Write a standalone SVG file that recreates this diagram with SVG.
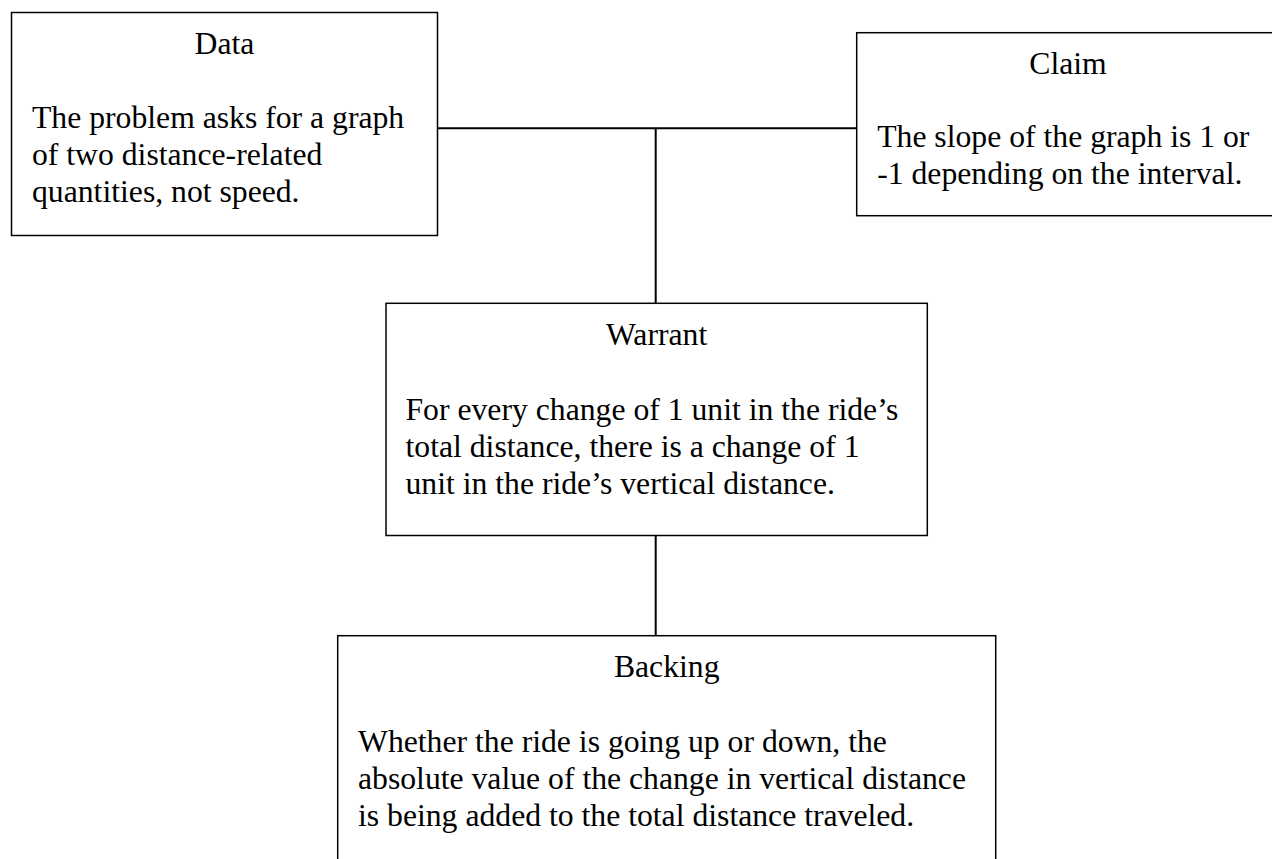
<svg xmlns="http://www.w3.org/2000/svg" width="1272" height="859" viewBox="0 0 1272 859">
<style>
.box{fill:#fff;stroke:#000;stroke-width:1.5}
.ln{stroke:#000;stroke-width:2;fill:none}
text{font-family:"Liberation Serif","Times New Roman",serif;font-size:31.7px;fill:#000}
.t{text-anchor:middle}
</style>
<rect width="1272" height="859" fill="#fff"/>
<g id="connectors">
<line class="ln" x1="437.5" y1="128.3" x2="856.7" y2="128.3"/>
<line class="ln" x1="655.7" y1="128.3" x2="655.7" y2="303.3"/>
<line class="ln" x1="655.7" y1="535.5" x2="655.7" y2="635.7"/>
</g>
<g id="data">
<rect class="box" x="11.5" y="12.5" width="426" height="223"/>
<text class="t" x="224.5" y="53.5">Data</text>
<text x="32" y="128">The problem asks for a graph</text>
<text x="32" y="165">of two distance-related</text>
<text x="32" y="202">quantities, not speed.</text>
</g>
<g id="claim">
<rect class="box" x="856.7" y="32.7" width="422" height="183"/>
<text class="t" x="1068" y="74">Claim</text>
<text x="877.2" y="147">The slope of the graph is 1 or</text>
<text x="877.2" y="184">-1 depending on the interval.</text>
</g>
<g id="warrant">
<rect class="box" x="386" y="303.3" width="541.3" height="232.2"/>
<text class="t" x="656.6" y="344.5">Warrant</text>
<text x="405.5" y="419.5">For every change of 1 unit in the ride’s</text>
<text x="405.5" y="456.5">total distance, there is a change of 1</text>
<text x="405.5" y="493.5">unit in the ride’s vertical distance.</text>
</g>
<g id="backing">
<rect class="box" x="337.7" y="635.7" width="658" height="240"/>
<text class="t" x="666.7" y="677">Backing</text>
<text x="358" y="752">Whether the ride is going up or down, the</text>
<text x="358" y="789">absolute value of the change in vertical distance</text>
<text x="358" y="826">is being added to the total distance traveled.</text>
</g>
</svg>
